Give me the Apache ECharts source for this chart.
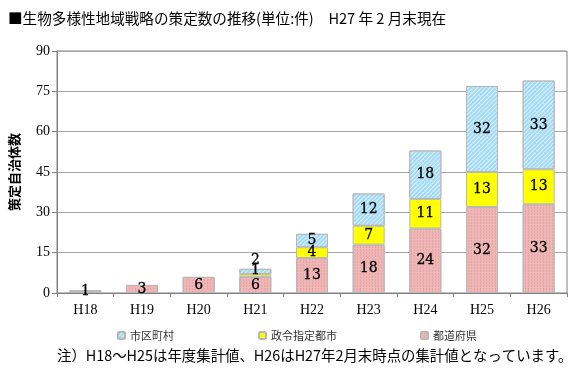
<!DOCTYPE html>
<html><head><meta charset="utf-8">
<script src="https://cdn.jsdelivr.net/npm/echarts@6/dist/echarts.min.js"></script>
<style>html,body{margin:0;padding:0;background:#fff}#c{width:580px;height:380px}</style>
</head><body><div id="c"></div>
<script>
const categories = ['H18','H19','H20','H21','H22','H23','H24','H25','H26'];
const prefectures = [1,3,6,6,13,18,24,32,33];      // 都道府県
const designatedCities = [null,null,null,1,4,7,11,13,13]; // 政令指定都市
const municipalities = [null,null,null,2,5,12,18,32,33];  // 市区町村
const yTicks = {min:0, max:90, interval:15};

const serif = '"Liberation Serif","DejaVu Serif",serif';
const jp = '"Noto Sans CJK JP","Noto Sans",sans-serif';
const labelStyle = {show:true, position:'inside', color:'#000', fontFamily:'"DejaVu Serif",serif', fontSize:14, textBorderColor:'#000', textBorderWidth:0.3};

function items(arr, fn){ return arr.map((v,i)=> fn ? fn(v,i) : v); }

const chart = echarts.init(document.getElementById('c'), null, {renderer:'canvas'});
chart.setOption({
  animation:false,
  title:{text:'■生物多様性地域戦略の策定数の推移(単位:件)　H27 年 2 月末現在', left:3, top:6,
    textStyle:{fontFamily:jp, fontSize:14.6, fontWeight:'normal', color:'#000'}},
  graphic:[{type:'text', left:57, top:348, style:{text:'注）H18～H25は年度集計値、H26はH27年2月末時点の集計値となっています。', font:'14.4px "Noto Sans CJK JP", sans-serif', fill:'#000'}}],
  grid:{left:55, right:13, top:51, bottom:87, show:true, borderColor:'#808080', borderWidth:1},
  legend:[
    {data:['市区町村'], left:112, top:325, itemWidth:7, itemHeight:7, itemGap:4, textStyle:{fontFamily:jp, fontSize:11, color:'#333'}},
    {data:['政令指定都市'], left:253, top:325, itemWidth:7, itemHeight:7, textStyle:{fontFamily:jp, fontSize:11, color:'#333'}},
    {data:['都道府県'], left:415, top:325, itemWidth:7, itemHeight:7, textStyle:{fontFamily:jp, fontSize:11, color:'#333'}}
  ],
  xAxis:{type:'category', data:categories,
    axisLine:{lineStyle:{color:'#808080'}},
    axisTick:{show:true, alignWithLabel:false, length:4, lineStyle:{color:'#808080'}},
    axisLabel:{color:'#000', fontFamily:serif, fontSize:14, margin:10}},
  yAxis:{type:'value', min:yTicks.min, max:yTicks.max, interval:yTicks.interval,
    name:'策定自治体数', nameLocation:'middle', nameRotate:90, nameGap:36,
    nameTextStyle:{fontFamily:jp, fontSize:13, fontWeight:'bold', color:'#000'},
    axisLine:{show:true, lineStyle:{color:'#808080'}},
    axisTick:{show:true, length:5, lineStyle:{color:'#808080'}},
    axisLabel:{color:'#000', fontFamily:serif, fontSize:14, margin:7},
    splitLine:{lineStyle:{color:'#a6a6a6'}}},
  series:[
    {name:'都道府県', type:'bar', stack:'s', barWidth:32,
     data:prefectures,
     itemStyle:{color:'#f0b6b6', borderColor:'#b8b8b8', borderWidth:1,
       decal:{symbol:'rect', symbolSize:1, color:'rgba(205,130,130,0.3)', dashArrayX:[1,2], dashArrayY:[2,1]}},
     label:labelStyle},
    {name:'政令指定都市', type:'bar', stack:'s', barWidth:32,
     data:items(designatedCities,(v,i)=> v===1 ? {value:v, label:{offset:[0,-5]}} : v),
     itemStyle:{color:'#ffff00', borderColor:'#b8b8b8', borderWidth:1},
     label:labelStyle},
    {name:'市区町村', type:'bar', stack:'s', barWidth:32,
     data:items(municipalities,(v,i)=> (v!==null && v<=2) ? {value:v, label:{position:'top', distance:1}} : v),
     itemStyle:{color:'#a3daf4', borderColor:'#b8b8b8', borderWidth:1,
       decal:{symbol:'rect', symbolSize:1, color:'rgba(255,255,255,0.6)', dashArrayX:[1,0], dashArrayY:[1,2], rotation:-Math.PI/4}},
     label:labelStyle}
  ]
});
</script></body></html>
